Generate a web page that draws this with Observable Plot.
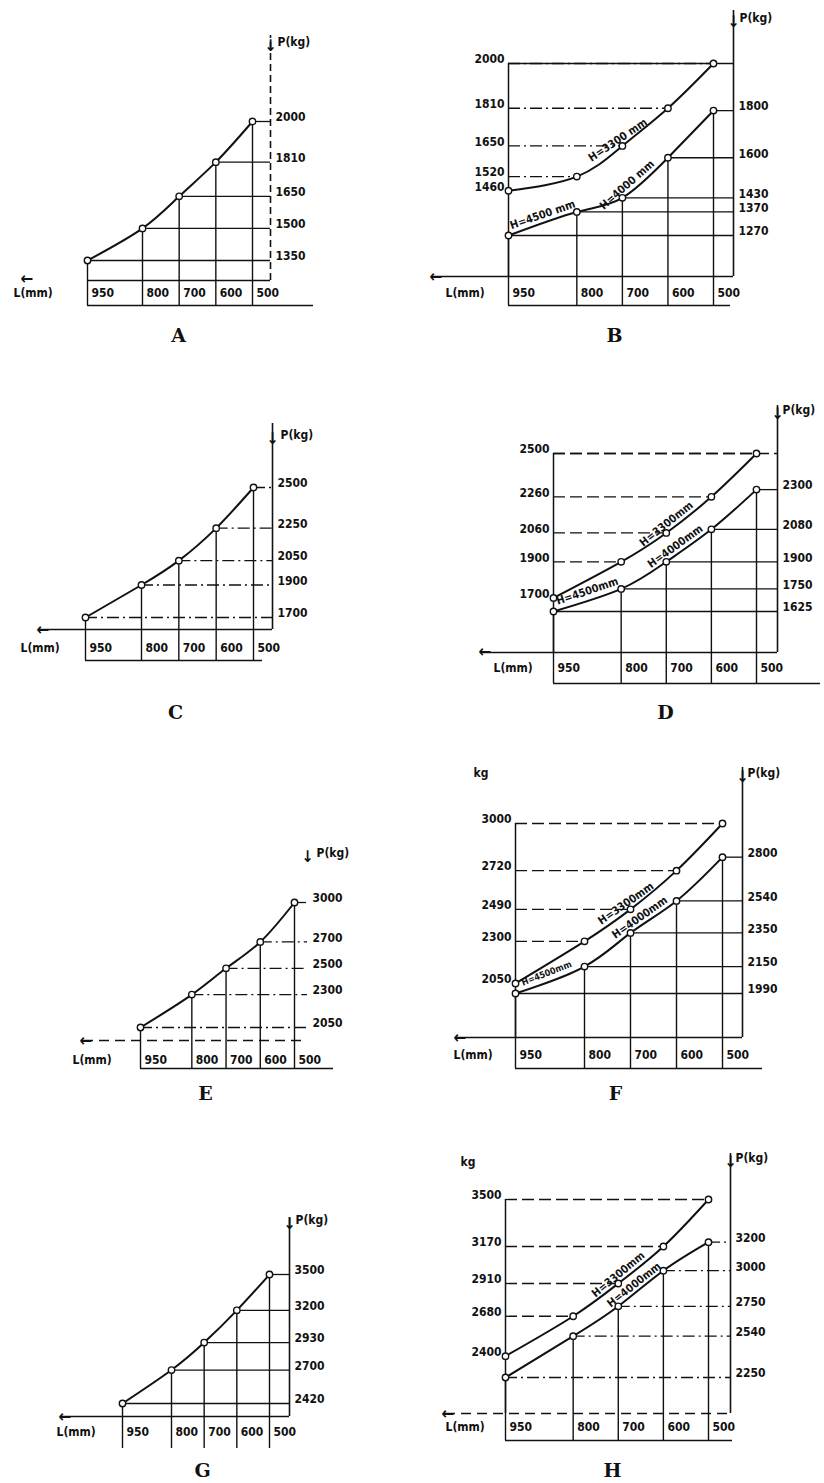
<!DOCTYPE html>
<html><head><meta charset="utf-8">
<script src="https://cdn.jsdelivr.net/npm/d3@7"></script>
<script src="https://cdn.jsdelivr.net/npm/@observablehq/plot@0.6"></script>
<style>
html,body{margin:0;padding:0;background:#fff}
#page{position:relative;width:824px;height:1483px;overflow:hidden;background:#fff}
#page svg{position:absolute}
</style></head><body><div id="page"></div>
<script>
// ---- data ----
const L = [950, 800, 700, 600, 500];
const xTickLabels = ["950", "800", "700", "600", "500"];
const A_P = [1350, 1500, 1650, 1810, 2000];
const B_upper = [1460, 1520, 1650, 1810, 2000];
const B_lower = [1270, 1370, 1430, 1600, 1800];
const C_P = [1700, 1900, 2050, 2250, 2500];
const D_upper = [1700, 1900, 2060, 2260, 2500];
const D_lower = [1625, 1750, 1900, 2080, 2300];
const E_P = [2050, 2300, 2500, 2700, 3000];
const F_upper = [2050, 2300, 2490, 2720, 3000];
const F_lower = [1990, 2150, 2350, 2540, 2800];
const G_P = [2420, 2700, 2930, 3200, 3500];
const H_upper = [2400, 2680, 2910, 3170, 3500];
const H_lower = [2250, 2540, 2750, 3000, 3200];
const captions = ["A", "B", "C", "D", "E", "F", "G", "H"];
const B_curveLabels = ["H=3300 mm", "H=4500 mm", "H=4000 mm"];
const D_curveLabels = ["H=3300mm", "H=4500mm", "H=4000mm"];
const F_curveLabels = ["H=3300mm", "H=4500mm", "H=4000mm"];
const H_curveLabels = ["H=3300mm", "H=4000mm"];
const xAxisTitle = "L(mm)";
const yAxisTitle = "P(kg)";
const kgTitle = "kg";

// ---- layout (pixels, local to each 412x370 panel) ----
const DD = "12,4,2,4", DS = "12,5";
const panels = [
  {left:0, top:0, cap:0, series:[{P:A_P, side:"right", hDash:null, drop:true}],
   xr:[87,252], yd:[1350,2000], yr:[260,121], frame:{l:87,r:270,t:35,b:280}, rightDash:"7,4",
   under:305, underEnd:313, labY:293, lmm:[13,293], arrow:[20,278], ptitle:[277,42], capPos:[178,335]},
  {left:412, top:0, cap:1, series:[{P:B_upper, side:"left", hDash:DD},{P:B_lower, side:"right", hDash:null, drop:true}],
   xr:[96,301], yd:[1270,2000], yr:[235,63], frame:{l:21,r:321,t:10,b:276}, topLine:null,
   under:305, underEnd:318, labY:293, lmm:[33,293], arrow:[17,276], ptitle:[327,18], capPos:[202,335],
   curveLabels:[{s:0,text:B_curveLabels[0],seg:1.9,dy:-9},{s:1,text:B_curveLabels[1],seg:0.5,dy:-9},{s:1,text:B_curveLabels[2],seg:2.1,dy:-9}]},
  {left:0, top:370, cap:2, series:[{P:C_P, side:"right", hDash:DD, drop:true}],
   xr:[85,253], yd:[1700,2500], yr:[247,117], frame:{l:40,r:272,t:53,b:259},
   under:290, underEnd:262, labY:278, lmm:[20,278], arrow:[36,259], ptitle:[280,65], capPos:[175,342]},
  {left:412, top:370, cap:3, series:[{P:D_upper, side:"left", hDash:DS},{P:D_lower, side:"right", hDash:null, drop:true}],
   xr:[141,344], yd:[1625,2500], yr:[241,83], frame:{l:70,r:365,t:35,b:282}, topLine:DS,
   under:313, underEnd:408, labY:298, lmm:[81,298], arrow:[66,281], ptitle:[370,40], capPos:[253,342],
   curveLabels:[{s:0,text:D_curveLabels[0],seg:2.0,dy:-9},{s:1,text:D_curveLabels[1],seg:0.5,dy:-9},{s:1,text:D_curveLabels[2],seg:2.2,dy:-9}]},
  {left:0, top:740, cap:4, series:[{P:E_P, side:"right", hDash:DD, drop:true}],
   xr:[140,294], yd:[2050,3000], yr:[287,162], frame:{l:83,r:307,t:113,b:300}, noRight:true, bottomDash:"10,6",
   under:328, underEnd:333, labY:320, lmm:[72,320], arrow:[79,300], ptitle:[316,113], capPos:[205,353]},
  {left:412, top:740, cap:5, series:[{P:F_upper, side:"left", hDash:DS},{P:F_lower, side:"right", hDash:null, drop:true}],
   xr:[103,310], yd:[1990,3000], yr:[253,83], frame:{l:45,r:330,t:27,b:297},
   under:328, underEnd:350, labY:315, lmm:[41,315], arrow:[41,297], ptitle:[335,33], kg:[61,33], capPos:[203,353],
   curveLabels:[{s:0,text:F_curveLabels[0],seg:1.9,dy:-9},{s:1,text:F_curveLabels[1],seg:0.45,dy:-8,fs:9},{s:1,text:F_curveLabels[2],seg:2.2,dy:-9}]},
  {left:0, top:1113, cap:6, series:[{P:G_P, side:"right", hDash:null, drop:true}],
   xr:[122,269], yd:[2420,3500], yr:[290,161], frame:{l:62,r:289,t:104,b:303},
   under:335, underEnd:null, labY:319, lmm:[56,319], arrow:[58,303], ptitle:[295,107], capPos:[202,357]},
  {left:412, top:1113, cap:7, series:[{P:H_upper, side:"left", hDash:DS},{P:H_lower, side:"right", hDash:DD, drop:true}],
   xr:[93,296], yd:[2250,3500], yr:[264,86], frame:{l:33,r:318,t:40,b:300}, bottomDash:"10,6",
   under:327, underEnd:320, labY:314, lmm:[33,314], arrow:[29,300], ptitle:[323,45], kg:[48,49], capPos:[200,357],
   curveLabels:[{s:0,text:H_curveLabels[0],seg:2.0,dy:-9},{s:1,text:H_curveLabels[1],seg:2.35,dy:-9}]}
];

const W = 412, HH = 370, ink = "#111";
const FONT = "'DejaVu Sans Condensed','Liberation Sans Narrow',sans-serif";

function build(cfg){
  const xs = d3.scaleLinear().domain([950,500]).range(cfg.xr);
  const ys = d3.scaleLinear().domain(cfg.yd).range(cfg.yr);
  const X = px => xs.invert(px), Y = py => ys.invert(py);
  const f = cfg.frame;
  const xR = X(f.r), xL = X(f.l), yB = Y(f.b), yT = Y(f.t);
  const rows = cfg.series.map(s => L.map((l,i) => ({L:l, P:s.P[i]})));
  const m = [];
  // guide lines
  cfg.series.forEach((s,k) => {
    const d = rows[k];
    if (s.side === "right")
      m.push(Plot.ruleY(d, {y:"P", x1:"L", x2:xR, stroke:ink, strokeWidth:1.3, strokeDasharray:s.hDash}));
    else {
      m.push(Plot.ruleY(d, {y:"P", x1:950, x2:"L", stroke:ink, strokeWidth:1.3, strokeDasharray:s.hDash}));
      m.push(Plot.ruleX([950], {y1:yB, y2:d3.max(s.P), stroke:ink, strokeWidth:1.5}));
    }
    if (s.drop)
      m.push(Plot.ruleX(d, {x:"L", y1:"P", y2:yB, stroke:ink, strokeWidth:1.4}));
  });
  if (cfg.topLine !== undefined) {
    const top = d3.max(cfg.series[0].P);
    m.push(Plot.ruleY([top], {x1:950, x2:xR, stroke:ink, strokeWidth:1.4, strokeDasharray:cfg.topLine}));
  }
  // axes
  if (!cfg.noRight)
    m.push(Plot.ruleX([xR], {y1:yB, y2:yT, stroke:ink, strokeWidth:1.6, strokeDasharray:cfg.rightDash}));
  m.push(Plot.ruleY([yB], {x1:xL, x2:xR, stroke:ink, strokeWidth:1.6, strokeDasharray:cfg.bottomDash}));
  m.push(Plot.ruleX(L, {y1:yB, y2:Y(cfg.under), stroke:ink, strokeWidth:1.4}));
  if (cfg.underEnd)
    m.push(Plot.ruleY([Y(cfg.under)], {x1:950, x2:X(cfg.underEnd), stroke:ink, strokeWidth:1.4}));
  // x tick labels
  m.push(Plot.text(L, {x:d=>d, y:Y(cfg.labY), text:(d,i)=>xTickLabels[i], textAnchor:"start", dx:4,
    fontSize:12, fontWeight:"bold", fill:ink}));
  // P tick labels
  cfg.series.forEach(s => {
    if (s.side === "right")
      m.push(Plot.text(s.P, {x:xR, y:d=>d, text:d=>String(d), textAnchor:"start", dx:5, dy:-4,
        fontSize:12, fontWeight:"bold", fill:ink}));
    else
      m.push(Plot.text(s.P, {x:950, y:d=>d, text:d=>String(d), textAnchor:"end", dx:-4, dy:-4,
        fontSize:12, fontWeight:"bold", fill:ink}));
  });
  // titles
  m.push(Plot.text([xAxisTitle], {x:X(cfg.lmm[0]), y:Y(cfg.lmm[1]), text:d=>d, textAnchor:"start",
    fontSize:12, fontWeight:"bold", fill:ink}));
  m.push(Plot.text(["←"], {x:X(cfg.arrow[0]), y:Y(cfg.arrow[1]), text:d=>d, textAnchor:"start",
    fontSize:17, fontWeight:"bold", fill:ink}));
  m.push(Plot.text([yAxisTitle], {x:X(cfg.ptitle[0]), y:Y(cfg.ptitle[1]), text:d=>d, textAnchor:"start",
    fontSize:12, fontWeight:"bold", fill:ink}));
  m.push(Plot.text(["↓"], {x:X(f.r), y:Y(cfg.ptitle[1] + 3), text:d=>d,
    fontSize:16, fontWeight:"bold", fill:ink}));
  if (cfg.kg)
    m.push(Plot.text([kgTitle], {x:X(cfg.kg[0]), y:Y(cfg.kg[1]), text:d=>d, textAnchor:"start",
      fontSize:12, fontWeight:"bold", fill:ink}));
  // curves
  rows.forEach(d => {
    m.push(Plot.line(d, {x:"L", y:"P", curve:"natural", stroke:ink, strokeWidth:2}));
    m.push(Plot.dot(d, {x:"L", y:"P", r:3.2, fill:"white", stroke:ink, strokeWidth:1.4}));
  });
  // curve labels
  (cfg.curveLabels || []).forEach(c => {
    const P = cfg.series[c.s].P;
    const i = Math.floor(c.seg), fr = c.seg - i;
    const lx = L[i] + fr * (L[i+1] - L[i]);
    const py = P[i] + fr * (P[i+1] - P[i]);
    const ang = Math.atan2(ys(P[i+1]) - ys(P[i]), xs(L[i+1]) - xs(L[i])) * 180 / Math.PI;
    m.push(Plot.text([c.text], {x:lx, y:py, text:d=>d, rotate:ang, dy:c.dy,
      fontSize:c.fs || 11, fontWeight:"bold", fill:ink}));
  });
  // caption
  m.push(Plot.text([captions[cfg.cap]], {x:X(cfg.capPos[0]), y:Y(cfg.capPos[1]), text:d=>d,
    fontSize:19, fontWeight:"bold", fontFamily:"'DejaVu Serif',serif", fill:ink}));

  const svg = Plot.plot({
    width:W, height:HH,
    marginLeft:f.l, marginRight:W - f.r, marginTop:f.t, marginBottom:HH - f.b,
    x:{domain:[950,500], range:cfg.xr, axis:null},
    y:{domain:cfg.yd, range:cfg.yr, axis:null},
    style:{fontFamily:FONT, fontSize:"12px", background:"transparent", overflow:"visible"},
    marks:m
  });
  svg.style.left = cfg.left + "px";
  svg.style.top = cfg.top + "px";
  document.getElementById("page").appendChild(svg);
}
panels.forEach(build);
</script>
</body></html>
